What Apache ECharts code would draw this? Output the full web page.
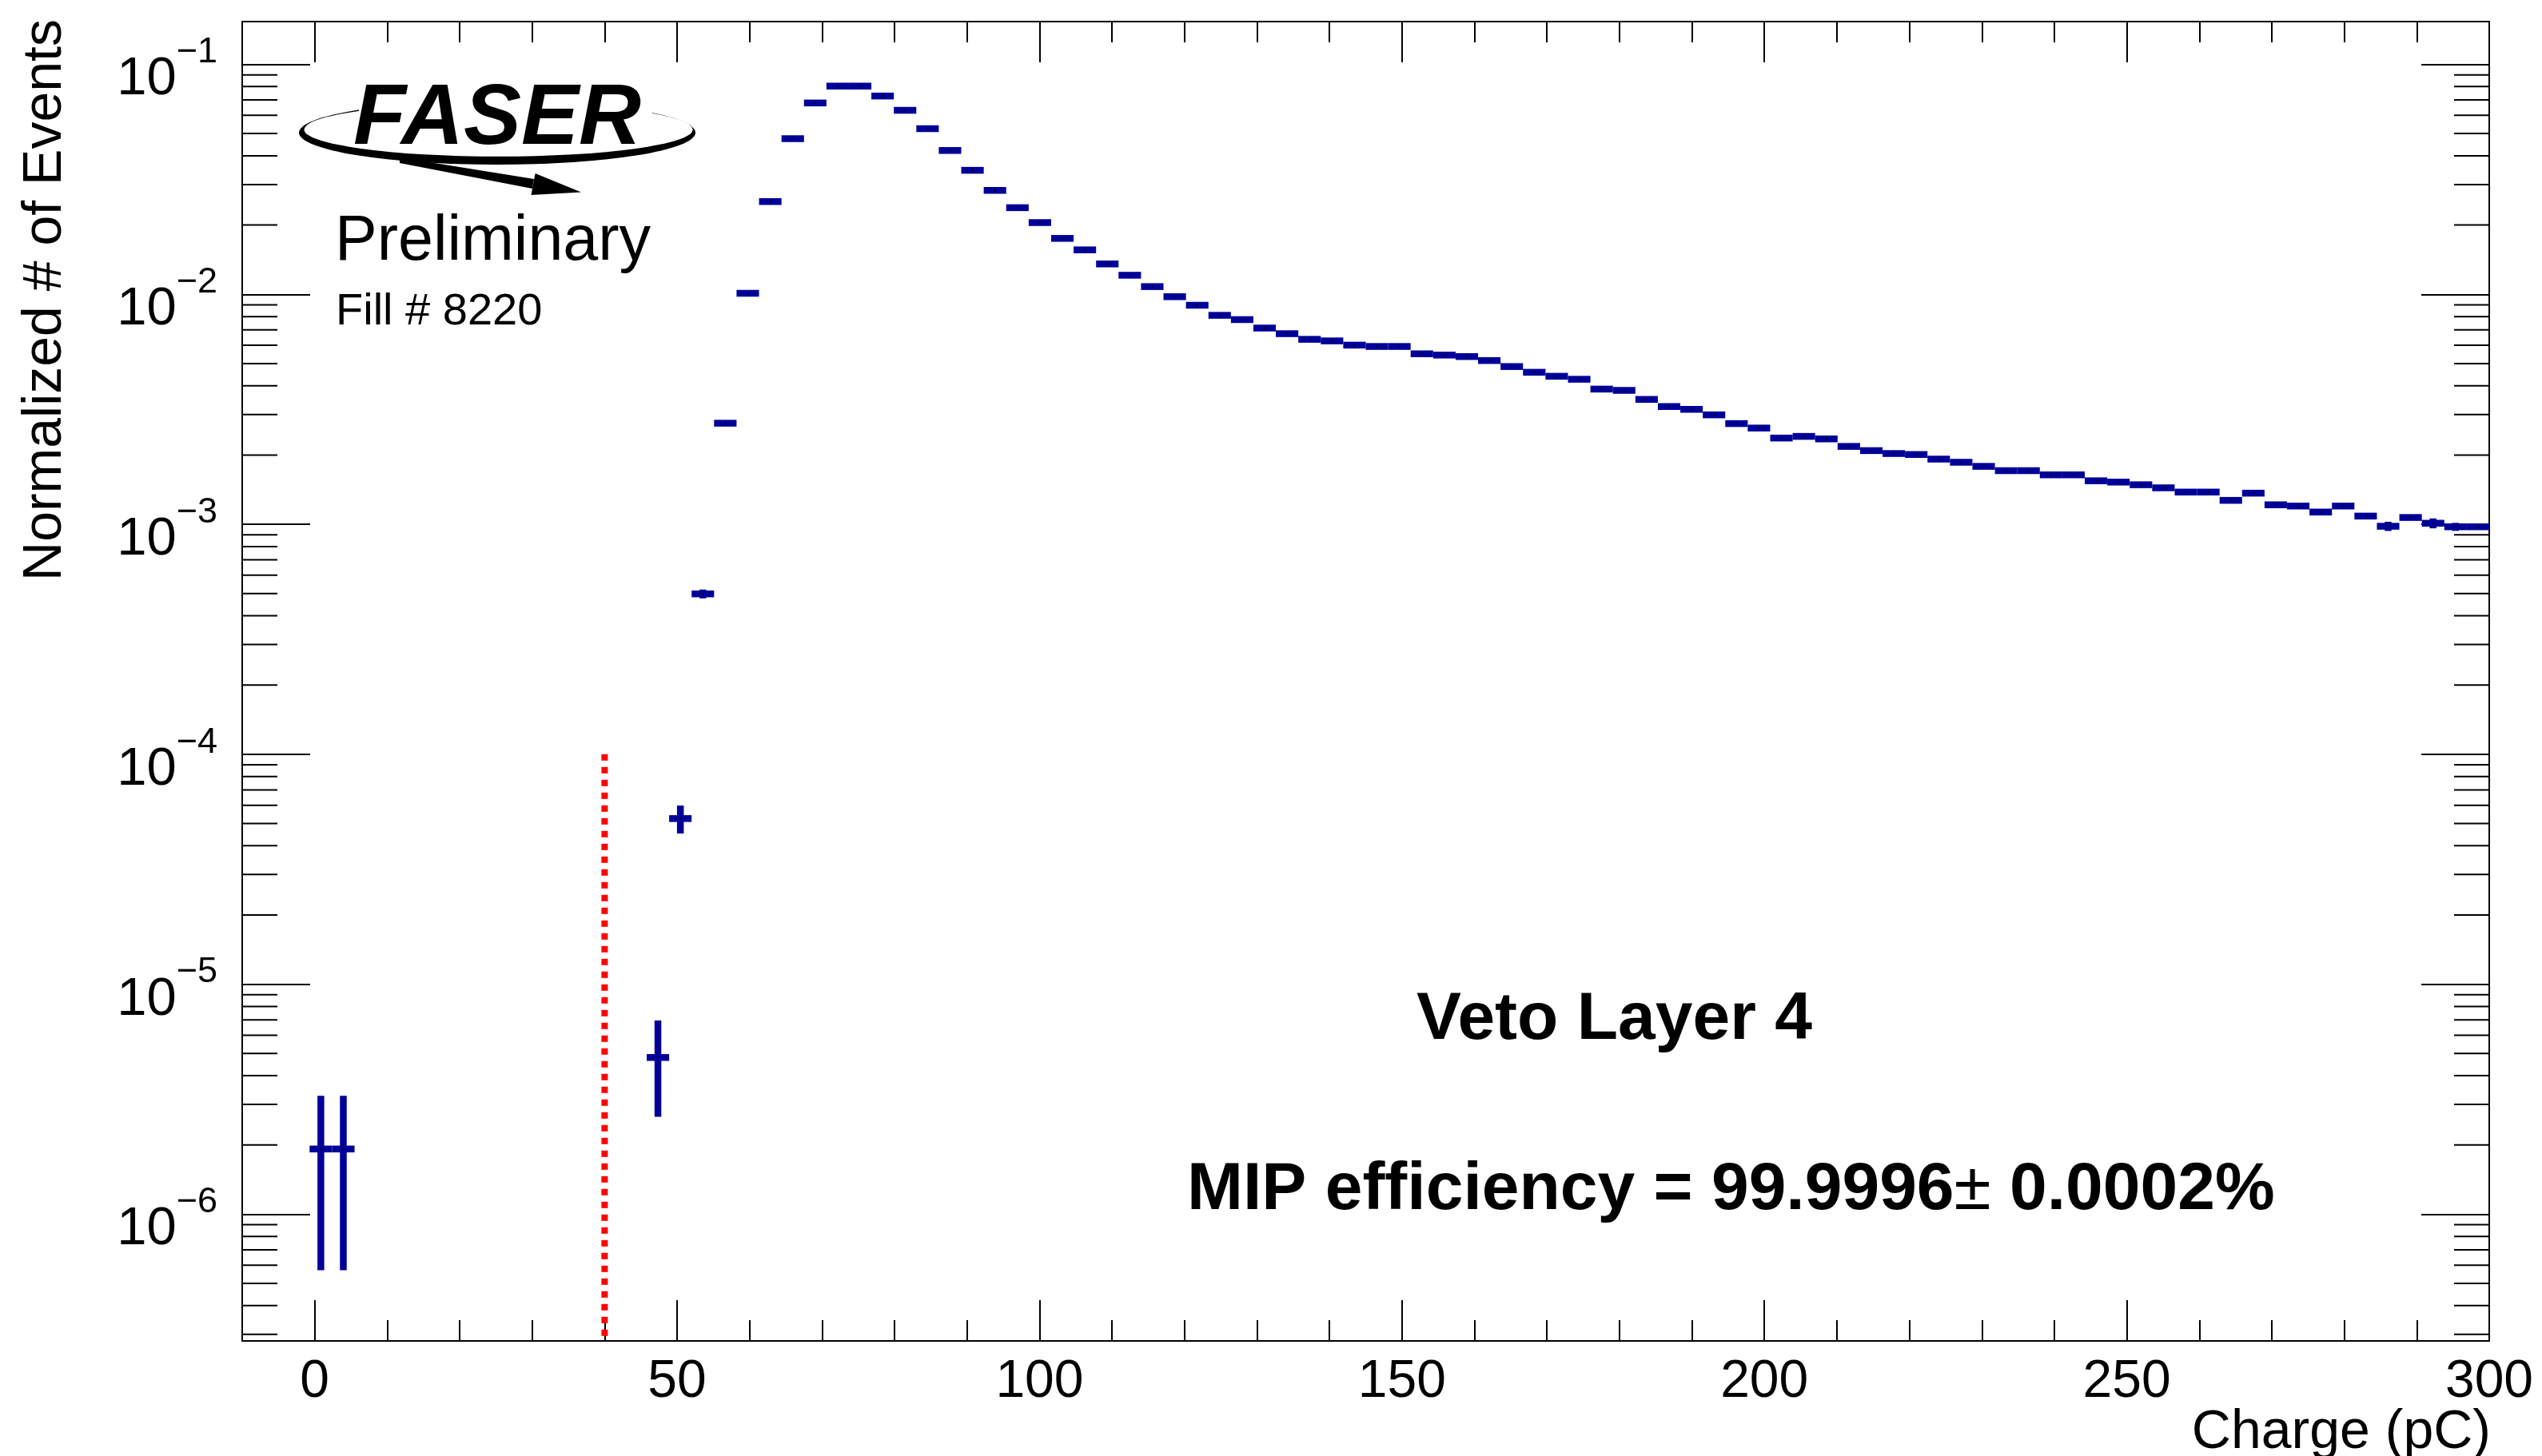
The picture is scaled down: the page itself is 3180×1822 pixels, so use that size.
<!DOCTYPE html>
<html>
<head>
<meta charset="utf-8">
<script src="https://cdn.jsdelivr.net/npm/echarts@6/dist/echarts.min.js"></script>
<style>
  html, body { margin: 0; padding: 0; background: #ffffff; }
  #chart { width: 3180px; height: 1822px; }
</style>
</head>
<body>
<div id="chart"></div>
<script>
// ---- Histogram binning of the charge axis (pC) ----
const binStart = -10;
const binWidth = 3.1;

// Normalized number of events per bin (null = empty bin), 100 bins from -10 to 300 pC
const binValues = [
  null, null, null, 1.92e-6, 1.92e-6, null, null, null, null, null,
  null, null, null, null, null, null, null, null, 4.8e-6, 5.25e-5,
  4.98e-4, 2.75e-3, 1.01e-2, 2.53e-2, 4.75e-2, 6.79e-2, 8.04e-2, 8.04e-2, 7.28e-2, 6.31e-2,
  5.25e-2, 4.22e-2, 3.46e-2, 2.83e-2, 2.38e-2, 2.05e-2, 1.75e-2, 1.56e-2, 1.355e-2, 1.21e-2,
  1.08e-2, 9.76e-3, 8.96e-3, 8.10e-3, 7.76e-3, 7.13e-3, 6.74e-3, 6.37e-3, 6.27e-3, 6.01e-3,
  5.93e-3, 5.93e-3, 5.51e-3, 5.44e-3, 5.36e-3, 5.15e-3, 4.85e-3, 4.58e-3, 4.40e-3, 4.27e-3,
  3.87e-3, 3.82e-3, 3.49e-3, 3.25e-3, 3.16e-3, 2.99e-3, 2.74e-3, 2.62e-3, 2.37e-3, 2.41e-3,
  2.35e-3, 2.18e-3, 2.09e-3, 2.03e-3, 2.01e-3, 1.92e-3, 1.86e-3, 1.785e-3, 1.71e-3, 1.71e-3,
  1.64e-3, 1.64e-3, 1.545e-3, 1.525e-3, 1.485e-3, 1.44e-3, 1.38e-3, 1.38e-3, 1.27e-3, 1.365e-3,
  1.215e-3, 1.20e-3, 1.13e-3, 1.20e-3, 1.085e-3, 9.8e-4, 1.07e-3, 1.01e-3, 9.75e-4, 9.75e-4
];

// Statistical uncertainties for the bins where they reach past the marker
const errorBins   = [3, 4, 18, 19, 20, 95, 97, 98];
const errorValues = [1.35e-6, 1.35e-6, 2.15e-6, 7.3e-6, 2.2e-5, 4.5e-5, 5.0e-5, 3.9e-5];

// Cut threshold (pC) and the height the cut line reaches
const thresholdCharge = 40;
const thresholdTop = 1e-4;

// Axis ranges and ticks
const xMin = -10, xMax = 300;
const yMin = 2.81e-7, yMax = 0.1534;
const xMinorTicks = [0, 10, 20, 30, 40, 50, 60, 70, 80, 90, 100, 110, 120, 130, 140, 150,
                     160, 170, 180, 190, 200, 210, 220, 230, 240, 250, 260, 270, 280, 290, 300];
const xMajorTicks = [0, 50, 100, 150, 200, 250, 300];
const xLabelValues = [0, 50, 100, 150, 200, 250, 300];
const yDecades = [-7, -6, -5, -4, -3, -2, -1];
const yMinorMultipliers = [2, 3, 4, 5, 6, 7, 8, 9];

// Text
const xTitle = 'Charge (pC)';
const yTitle = 'Normalized # of Events';
const layerText = 'Veto Layer 4';
const mipEfficiency = '99.9996';
const mipUncertainty = '0.0002';
const statusText = 'Preliminary';
const fillText = 'Fill # 8220';

// ---- Styles ----
const FONT = '"Liberation Sans", Arial, Helvetica, sans-serif';
const NAVY = '#000099';
const AXIS = '#000000';
const MARKER_W = 8.5;

// ---- Derived series data ----
const errorOf = {};
errorBins.forEach((b, k) => { errorOf[b] = errorValues[k]; });

const histData = [];
binValues.forEach((v, i) => {
  if (v != null) histData.push([binStart + binWidth * (i + 0.5), v, errorOf[i] || 0]);
});

const yMinorTicks = [];
yDecades.forEach(d => {
  yMinorMultipliers.forEach(m => {
    const v = m * Math.pow(10, d);
    if (v > yMin && v < yMax) yMinorTicks.push([xMin, v]);
  });
});

// One histogram bin: horizontal bar over the bin width, vertical error bar, centre dot
function renderBin(params, api) {
  const x = api.value(0), y = api.value(1), e = api.value(2);
  const left = api.coord([x - binWidth / 2, y]);
  const right = api.coord([x + binWidth / 2, y]);
  const mid = api.coord([x, y]);
  const kids = [{
    type: 'line',
    shape: { x1: left[0], y1: mid[1], x2: right[0], y2: mid[1] },
    style: { stroke: NAVY, lineWidth: MARKER_W }
  }];
  if (e > 0) {
    const top = api.coord([x, y + e]);
    const bot = api.coord([x, y - e]);
    kids.push({
      type: 'line',
      shape: { x1: mid[0], y1: top[1], x2: mid[0], y2: bot[1] },
      style: { stroke: NAVY, lineWidth: MARKER_W }
    });
  }
  kids.push({
    type: 'rect',
    shape: { x: mid[0] - 1, y: mid[1] - 1, width: 2, height: 2 },
    style: { fill: '#000000' }
  });
  return { type: 'group', children: kids };
}

// Logarithmic minor ticks (2..9 x 10^n) on both vertical frame sides
function renderMinorTick(params, api) {
  const v = api.value(1);
  const pL = api.coord([xMin, v]);
  const pR = api.coord([xMax, v]);
  return {
    type: 'group',
    children: [
      { type: 'line', shape: { x1: pL[0], y1: pL[1], x2: pL[0] + 44, y2: pL[1] },
        style: { stroke: AXIS, lineWidth: 2 } },
      { type: 'line', shape: { x1: pR[0] - 44, y1: pR[1], x2: pR[0], y2: pR[1] },
        style: { stroke: AXIS, lineWidth: 2 } }
    ]
  };
}

function xAxisDef(position, tickValues, tickLen, showLine, labels) {
  return {
    type: 'value',
    position: position,
    min: xMin,
    max: xMax,
    splitLine: { show: false },
    axisLine: { show: showLine, onZero: false, lineStyle: { color: AXIS, width: 2 } },
    axisTick: { show: true, inside: true, length: tickLen, customValues: tickValues,
                lineStyle: { color: AXIS, width: 2 } },
    axisLabel: labels ? {
      show: true, customValues: xLabelValues, margin: 19,
      fontSize: 66, fontFamily: FONT, color: '#000000'
    } : { show: false }
  };
}

function yAxisDef(position, labels) {
  return {
    type: 'log',
    logBase: 10,
    position: position,
    min: yMin,
    max: yMax,
    splitNumber: 5,
    splitLine: { show: false },
    minorTick: { show: false },
    axisLine: { show: true, onZero: false, lineStyle: { color: AXIS, width: 2 } },
    axisTick: { show: true, inside: true, length: 85, lineStyle: { color: AXIS, width: 2 } },
    axisLabel: labels ? {
      show: true,
      margin: 31,
      padding: [16, 0, 0, 0],
      fontFamily: FONT,
      color: '#000000',
      formatter: function (v) {
        const p = Math.log10(v);
        const r = Math.round(p);
        if (Math.abs(p - r) > 1e-6) return '';
        return '{b|10}{e|\u2212' + (-r) + '}';
      },
      rich: {
        b: { fontSize: 67, lineHeight: 90, verticalAlign: 'bottom', fontFamily: FONT, color: '#000000' },
        e: { fontSize: 45, lineHeight: 44, verticalAlign: 'top', fontFamily: FONT, color: '#000000' }
      }
    } : { show: false }
  };
}

const chart = echarts.init(document.getElementById('chart'), null, { renderer: 'canvas' });

chart.setOption({
  animation: false,
  backgroundColor: '#ffffff',
  textStyle: { fontFamily: FONT },
  grid: { left: 303, right: 66, top: 27, bottom: 144, containLabel: false },
  xAxis: [
    xAxisDef('bottom', xMinorTicks, 26, true, true),
    xAxisDef('bottom', xMajorTicks, 51, false, false),
    xAxisDef('top', xMinorTicks, 26, true, false),
    xAxisDef('top', xMajorTicks, 51, false, false)
  ],
  yAxis: [
    yAxisDef('left', true),
    yAxisDef('right', false)
  ],
  series: [
    {
      name: 'minor ticks',
      type: 'custom',
      xAxisIndex: 0,
      yAxisIndex: 0,
      silent: true,
      clip: false,
      renderItem: renderMinorTick,
      data: yMinorTicks,
      z: 1
    },
    {
      name: 'threshold',
      type: 'line',
      xAxisIndex: 0,
      yAxisIndex: 0,
      symbol: 'none',
      silent: true,
      lineStyle: { color: '#ff0000', width: 8, type: [8, 8], cap: 'butt' },
      data: [[thresholdCharge, thresholdTop], [thresholdCharge, yMin]],
      z: 3
    },
    {
      name: 'Veto Layer 4',
      type: 'custom',
      xAxisIndex: 0,
      yAxisIndex: 0,
      silent: true,
      clip: false,
      renderItem: renderBin,
      data: histData,
      z: 4
    }
  ],
  graphic: [
    // logo swoosh: ring with a heavy lower edge
    { type: 'circle', x: 622, y: 166, scaleY: 40 / 248, shape: { cx: 0, cy: 0, r: 248 },
      style: { fill: '#000000' }, z: 10 },
    { type: 'circle', x: 623.5, y: 162.2, scaleY: 33.6 / 243, shape: { cx: 0, cy: 0, r: 243 },
      style: { fill: '#ffffff' }, z: 11 },
    { type: 'rect', shape: { x: 452, y: 112, width: 364, height: 36 },
      style: { fill: '#ffffff' }, z: 12 },
    // arrow leaving the ring
    { type: 'polygon', shape: { points: [[500, 197], [668, 224], [666, 236], [500, 204]] },
      style: { fill: '#000000' }, z: 13 },
    { type: 'polygon', shape: { points: [[669.6, 217], [727, 240.5], [664.5, 244]] },
      style: { fill: '#000000' }, z: 13 },
    { type: 'text', x: 442, y: 150, scaleX: 1.0, originX: 442, originY: 150,
      style: { text: 'FASER', fontSize: 108, fontWeight: 900, fontStyle: 'italic', fontFamily: FONT,
               fill: '#000000', stroke: '#ffffff', lineWidth: 6, strokeFirst: true,
               align: 'left', verticalAlign: 'middle' }, z: 14 },
    { type: 'text', x: 419, y: 303,
      style: { text: statusText, fontSize: 79, fontFamily: FONT, fill: '#000000',
               align: 'left', verticalAlign: 'middle' }, z: 14 },
    { type: 'text', x: 420, y: 391,
      style: { text: fillText, fontSize: 56, fontFamily: FONT, fill: '#000000',
               align: 'left', verticalAlign: 'middle' }, z: 14 },
    // labels inside the frame
    { type: 'text', x: 1772, y: 1277,
      style: { text: layerText, fontSize: 84, fontWeight: 'bold', fontFamily: FONT, fill: '#000000',
               align: 'left', verticalAlign: 'middle' }, z: 14 },
    { type: 'text', x: 1485, y: 1490,
      style: {
        text: '{t|MIP efficiency = ' + mipEfficiency + '}{pm|\u00b1}{t| ' + mipUncertainty + '%}',
        rich: {
          t: { fontSize: 84, fontWeight: 'bold', fontFamily: FONT, fill: '#000000' },
          pm: { fontSize: 84, fontWeight: 'normal', fontFamily: FONT, fill: '#000000' }
        },
        align: 'left', verticalAlign: 'middle' }, z: 14 },
    // axis titles
    { type: 'text', x: 3116, y: 1793,
      style: { text: xTitle, fontSize: 68, fontFamily: FONT, fill: '#000000',
               align: 'right', verticalAlign: 'middle' }, z: 14 },
    { type: 'text', x: 57, y: 24, rotation: Math.PI / 2,
      style: { text: yTitle, fontSize: 68, fontFamily: FONT, fill: '#000000',
               align: 'right', verticalAlign: 'middle' }, z: 14 }
  ]
});
</script>
</body>
</html>
